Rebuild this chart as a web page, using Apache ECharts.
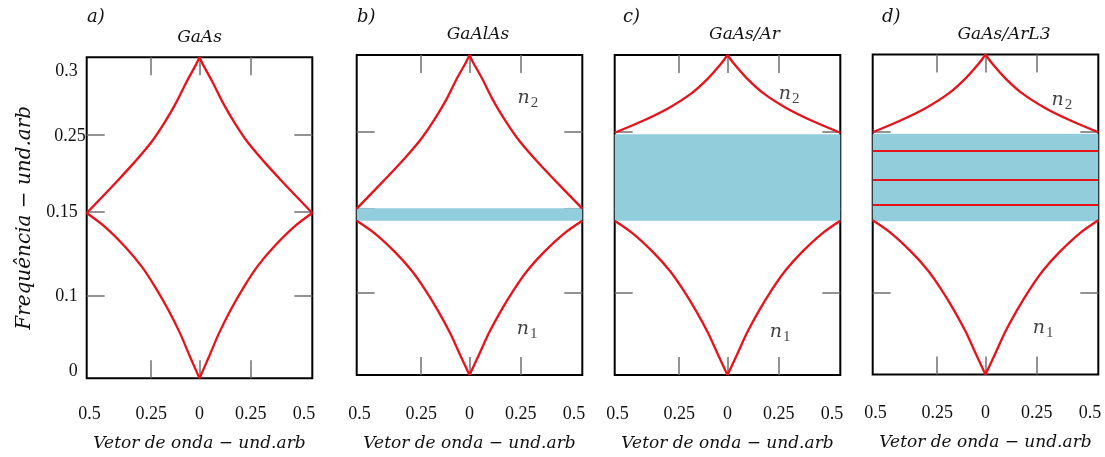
<!DOCTYPE html>
<html><head><meta charset="utf-8">
<script src="https://cdn.jsdelivr.net/npm/echarts@6/dist/echarts.min.js"></script>
<style>html,body{margin:0;padding:0;background:#fff}#c{width:1105px;height:457px}</style>
</head><body><div id="c"></div>
<script>
// ---- labels ----
const panelLetters = ['a)', 'b)', 'c)', 'd)'];
const panelTitles = ['GaAs', 'GaAlAs', 'GaAs/Ar', 'GaAs/ArL3'];
const xAxisTitle = 'Vetor de onda \u2212 und.arb';
const yAxisTitle = 'Frequ\u00eancia \u2212 und.arb';
const xTickLabels = ['0.5', '0.25', '0', '0.25', '0.5'];
const xLabelPos = [-0.488, -0.214, 0, 0.227, 0.463];
const xTickPos = [-0.214, 0, 0.227];
const yTickLabels = ['0', '0.1', '0.15', '0.25', '0.3'];
const yLabelPos = [0.023, 0.256, 0.516, 0.755, 0.957];
const yLabelPad = [8, 8, 8, 0, 8];
const yTickPos = [0.257, 0.52, 0.759];

// ---- curves: [wave vector, normalised frequency] ----
const upperA = [[-0.5,0.515],[-0.36,0.618],[-0.286,0.675],[-0.212,0.737],[-0.153,0.799],[-0.101,0.862],[-0.057,0.924],[-0.015,0.978],[0,1],
                [0.015,0.978],[0.057,0.924],[0.101,0.862],[0.153,0.799],[0.212,0.737],[0.286,0.675],[0.36,0.618],[0.5,0.515]];
const lowerA = [[-0.5,0.515],[-0.419,0.472],[-0.33,0.41],[-0.256,0.348],[-0.197,0.285],[-0.138,0.213],[-0.086,0.14],[-0.042,0.067],[0,0],
                [0.042,0.067],[0.086,0.14],[0.138,0.213],[0.197,0.285],[0.256,0.348],[0.33,0.41],[0.419,0.472],[0.5,0.515]];
const upperB = [[-0.5,0.52],[-0.36,0.622],[-0.286,0.678],[-0.212,0.74],[-0.153,0.801],[-0.101,0.863],[-0.057,0.925],[-0.015,0.978],[0,1],
                [0.015,0.978],[0.057,0.925],[0.101,0.863],[0.153,0.801],[0.212,0.74],[0.286,0.678],[0.36,0.622],[0.5,0.52]];
const lowerB = [[-0.5,0.482],[-0.419,0.442],[-0.33,0.384],[-0.256,0.326],[-0.197,0.267],[-0.138,0.199],[-0.086,0.131],[-0.042,0.063],[0,0],
                [0.042,0.063],[0.086,0.131],[0.138,0.199],[0.197,0.267],[0.256,0.326],[0.33,0.384],[0.419,0.442],[0.5,0.482]];
const upperC = [[-0.5,0.757],[-0.382,0.792],[-0.264,0.833],[-0.16,0.88],[-0.086,0.927],[-0.027,0.974],[0,1],
                [0.027,0.974],[0.086,0.927],[0.16,0.88],[0.264,0.833],[0.382,0.792],[0.5,0.757]];
const lowerC = lowerB;
const upperD = upperC;
const lowerD = lowerB;

// gaps (blue bands) [low, high] and confined modes in d
const bandB = [0.482, 0.521];
const bandC = [0.482, 0.752];
const bandD = [0.479, 0.752];
const linesD = [0.531, 0.615, 0.698];

// n labels [x, y]
const n2Pos = [null, [0.259, 0.866], [0.273, 0.878], [0.339, 0.859]];
const n1Pos = [null, [0.255, 0.144], [0.233, 0.134], [0.255, 0.144]];

const uppers = [upperA, upperB, upperC, upperD];
const lowers = [lowerA, lowerB, lowerC, lowerD];
const bands = [null, bandB, bandC, bandD];

const RED = '#e8121a';
const BLUE = '#92cddc';
const TICK = '#707070';
const gridsPos = [
  {left: 86.7, top: 57.3, width: 225.6, height: 321},
  {left: 356.7, top: 55, width: 225.6, height: 320},
  {left: 614.7, top: 55, width: 225.6, height: 320},
  {left: 872.7, top: 54.5, width: 225.6, height: 320}
];
const titleCenters = [199.5, 478, 744.5, 1004];
const titleY = [38, 35, 35, 35];
const letterX = [87, 357, 623, 882];

function nearestIdx(arr, v) {
  let b = 0;
  for (let i = 1; i < arr.length; i++) if (Math.abs(arr[i] - v) < Math.abs(arr[b] - v)) b = i;
  return b;
}
// split a branch at its cusp (x = 0) so the cusp stays sharp
function halves(arr) {
  const k = arr.findIndex(p => p[0] === 0);
  return [arr.slice(0, k + 1), arr.slice(k)];
}

const grid = [], xAxis = [], yAxis = [], series = [], graphic = [];
const tickStyle = {color: TICK, width: 1.5};
const noLine = {show: false, onZero: false};
gridsPos.forEach((g, i) => {
  grid.push(Object.assign({show: true, borderColor: '#000', borderWidth: 2, backgroundColor: 'transparent', containLabel: false, outerBoundsMode: 'none'}, g));
  xAxis.push({
    type: 'value', gridIndex: i, position: 'bottom', min: -0.5, max: 0.5,
    axisLine: noLine, splitLine: {show: false},
    axisTick: {show: true, inside: true, length: 18, customValues: xTickPos, lineStyle: tickStyle},
    axisLabel: {show: true, customValues: xLabelPos, formatter: v => xTickLabels[nearestIdx(xLabelPos, v)],
      margin: i === 0 ? 27 : 30, fontFamily: 'Liberation Serif', fontSize: 18, color: '#111'},
    name: xAxisTitle, nameLocation: 'middle', nameGap: i === 0 ? 57 : 60, nameMoveOverlap: false,
    nameTextStyle: {fontFamily: 'DejaVu Serif', fontStyle: 'italic', fontSize: 17, color: '#111'}
  });
  xAxis.push({
    type: 'value', gridIndex: i, position: 'top', min: -0.5, max: 0.5,
    axisLine: noLine, splitLine: {show: false}, axisLabel: {show: false},
    axisTick: {show: true, inside: true, length: 18, customValues: xTickPos, lineStyle: tickStyle}
  });
  const yl = {
    type: 'value', gridIndex: i, position: 'left', min: 0, max: 1,
    axisLine: noLine, splitLine: {show: false},
    axisTick: {show: true, inside: true, length: 18, customValues: yTickPos, lineStyle: tickStyle},
    axisLabel: {show: false}
  };
  if (i === 0) {
    yl.axisLabel = {
      show: true, customValues: yLabelPos, margin: 1,
      formatter: v => '{t' + nearestIdx(yLabelPos, v) + '|' + yTickLabels[nearestIdx(yLabelPos, v)] + '}',
      rich: Object.fromEntries(yLabelPad.map((p, k) => ['t' + k, {padding: [0, p, 0, 0], fontFamily: 'Liberation Serif', fontSize: 18, color: '#111'}]))
    };
    yl.name = yAxisTitle;
    yl.nameLocation = 'middle';
    yl.nameGap = 52;
    yl.nameRotate = 90;
    yl.nameMoveOverlap = false;
    yl.nameTextStyle = {fontFamily: 'DejaVu Serif', fontStyle: 'italic', fontSize: 20, color: '#111'};
  }
  yAxis.push(yl);
  yAxis.push({
    type: 'value', gridIndex: i, position: 'right', min: 0, max: 1,
    axisLine: noLine, splitLine: {show: false}, axisLabel: {show: false},
    axisTick: {show: true, inside: true, length: 18, customValues: yTickPos, lineStyle: tickStyle}
  });

  const xi = i * 2, yi = i * 2;
  const lineBase = {type: 'line', xAxisIndex: xi, yAxisIndex: yi, showSymbol: false, symbol: 'none',
    smooth: 0.3, lineStyle: {color: RED, width: 2.3}, silent: true, z: 3};
  halves(lowers[i]).forEach((d, h) => {
    const s = Object.assign({}, lineBase, {data: d});
    if (h === 0 && bands[i]) {
      s.markArea = {silent: true, itemStyle: {color: BLUE, opacity: 1},
        data: [[{xAxis: -0.5, yAxis: bands[i][0]}, {xAxis: 0.5, yAxis: bands[i][1]}]]};
    }
    series.push(s);
  });
  halves(uppers[i]).forEach((d, h) => {
    const s = Object.assign({}, lineBase, {data: d});
    if (h === 0 && i === 3) {
      s.markLine = {silent: true, symbol: 'none', label: {show: false},
        lineStyle: {color: RED, width: 2.2, type: 'solid'}, data: linesD.map(v => ({yAxis: v}))};
    }
    series.push(s);
  });
  if (n2Pos[i]) {
    series.push({
      type: 'scatter', xAxisIndex: xi, yAxisIndex: yi, symbolSize: 0, silent: true, z: 5,
      data: [{value: n2Pos[i], name: '2'}, {value: n1Pos[i], name: '1'}],
      label: {show: true, position: 'inside', formatter: p => '{n|n}{s|' + p.name + '}',
        rich: {n: {fontFamily: 'DejaVu Serif', fontStyle: 'italic', fontSize: 19, color: '#111'},
               s: {fontFamily: 'Liberation Serif', fontSize: 15, color: '#111', padding: [10, 0, 0, 1]}}}
    });
  }
  graphic.push({type: 'text', x: letterX[i], y: 17, style: {text: panelLetters[i], textVerticalAlign: 'middle',
    font: 'italic 18px "DejaVu Serif"', fill: '#111'}});
  graphic.push({type: 'text', x: titleCenters[i], y: titleY[i], style: {text: panelTitles[i], textAlign: 'center', textVerticalAlign: 'middle',
    font: 'italic 17px "DejaVu Serif"', fill: '#111'}});
});

const chart = echarts.init(document.getElementById('c'), null, {renderer: 'canvas'});
chart.setOption({animation: false, backgroundColor: '#fff', grid, xAxis, yAxis, series, graphic});
</script></body></html>
